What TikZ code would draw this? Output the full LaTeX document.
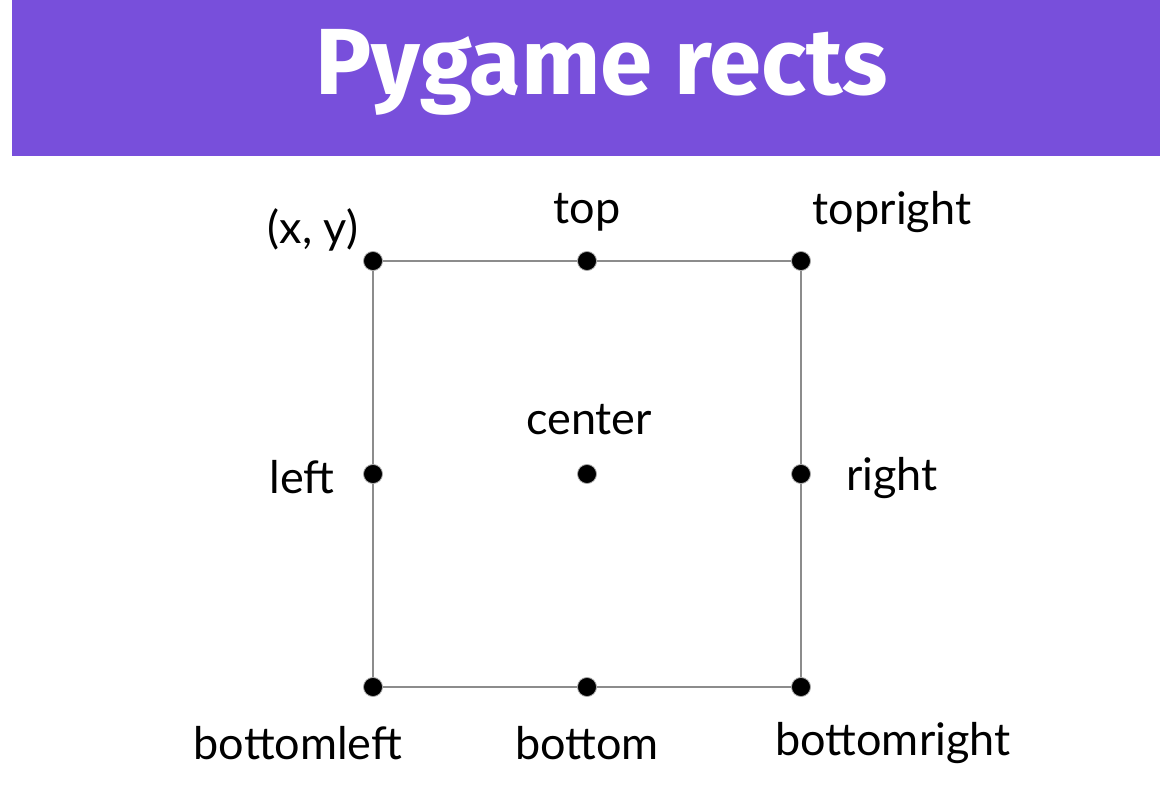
\documentclass[tikz,border=0pt]{standalone}
\usepackage{fontspec}
\setmainfont{Lato}
\newfontfamily\titlefont{Fira Sans}
\definecolor{barpurple}{RGB}{120,79,219}
\definecolor{edgegray}{RGB}{140,140,140}
\tikzset{
  pt/.style={circle,fill=black,draw=gray!70,line width=0.8pt,inner sep=0pt,minimum size=19pt},
  lbl/.style={font=\fontsize{45}{54}\selectfont,inner sep=0pt}
}

\begin{document}
\begin{tikzpicture}[x=1pt,y=-1pt]
		% Canvas and title bar
		\useasboundingbox (0,0) rectangle (1160,786);
		\fill[white] (0,0) rectangle (1160,786);
		\fill[barpurple] (12,0) rectangle (1160,156);
		\node[text=white,font=\titlefont\bfseries\fontsize{94}{100}\selectfont] (title) at (602,72) {Pygame rects};

		% Points of the rect
		\node[pt] (tl) at (373,261) {};
		\node[pt] (tm) at (587,261) {};
		\node[pt] (tr) at (801,261) {};
		\node[pt] (ml) at (373,474) {};
		\node[pt] (mc) at (587,474) {};
		\node[pt] (mr) at (801,474) {};
		\node[pt] (bl) at (373,687) {};
		\node[pt] (bm) at (587,687) {};
		\node[pt] (br) at (801,687) {};

		% Edges of the rect
		\draw[edgegray,line width=1.8pt] (tl) -- (tm) -- (tr) -- (mr) -- (br) -- (bm) -- (bl) -- (ml) -- (tl);

		% Labels
		\node[lbl] (xy) at (313,230) {(x, y)};
		\node[lbl] (top) at (587,212) {top};
		\node[lbl] (topright) at (892,212) {topright};
		\node[lbl] (left) at (302,477) {left};
		\node[lbl] (center) at (589,420) {center};
		\node[lbl] (right) at (892,478) {right};
		\node[lbl] (bottomleft) at (298,743) {bottomleft};
		\node[lbl] (bottom) at (587,743) {bottom};
		\node[lbl] (bottomright) at (893,743) {bottomright};

		% Redraw dots above the edges
		\foreach \p in {tl,tm,tr,ml,mc,mr,bl,bm,br}
			\fill[black] (\p) circle (8.5pt);
	\end{tikzpicture}
\end{document}
